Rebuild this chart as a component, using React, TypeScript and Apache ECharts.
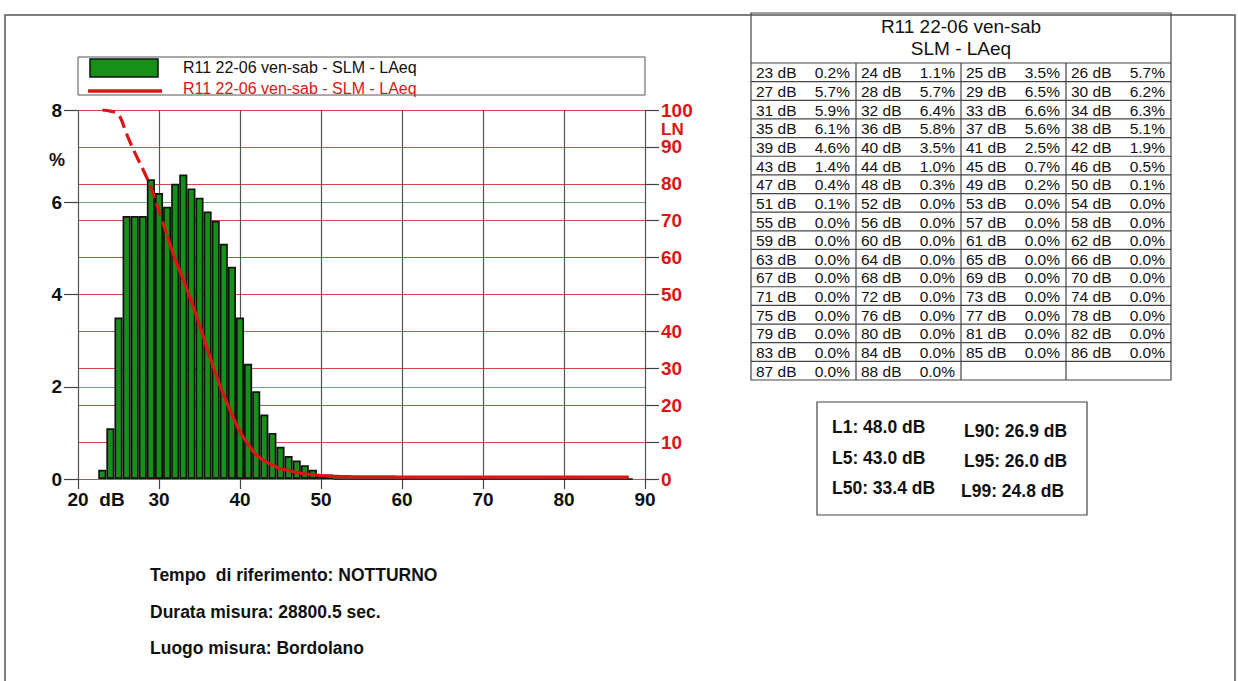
import React, { useEffect, useRef } from "react";
import * as echarts from "echarts";

// ---- Data ----
const dbLevels = [
  23, 24, 25, 26, 27, 28, 29, 30, 31, 32, 33, 34, 35, 36, 37, 38, 39, 40, 41, 42, 43, 44,
  45, 46, 47, 48, 49, 50, 51, 52, 53, 54, 55, 56, 57, 58, 59, 60, 61, 62, 63, 64, 65, 66,
  67, 68, 69, 70, 71, 72, 73, 74, 75, 76, 77, 78, 79, 80, 81, 82, 83, 84, 85, 86, 87, 88,
];
const pctValues = [
  0.2, 1.1, 3.5, 5.7, 5.7, 5.7, 6.5, 6.2, 5.9, 6.4, 6.6, 6.3, 6.1, 5.8, 5.6, 5.1, 4.6, 3.5,
  2.5, 1.9, 1.4, 1.0, 0.7, 0.5, 0.4, 0.3, 0.2, 0.1, 0.1, 0.0, 0.0, 0.0, 0.0, 0.0, 0.0, 0.0,
  0.0, 0.0, 0.0, 0.0, 0.0, 0.0, 0.0, 0.0, 0.0, 0.0, 0.0, 0.0, 0.0, 0.0, 0.0, 0.0, 0.0, 0.0,
  0.0, 0.0, 0.0, 0.0, 0.0, 0.0, 0.0, 0.0, 0.0, 0.0, 0.0, 0.0,
];
// LN curve (percent of time the level is exceeded)
const lnValues = [
  100, 99.7, 98.8, 93.5, 88.5, 84, 79, 72.5, 66, 59.5, 54, 48.1, 41.8, 35, 28.5, 22.7, 17.5,
  12.8, 9.4, 6.6, 4.9, 3.8, 2.8, 2.3, 1.8, 1.4, 1.2, 0.95, 0.8, 0.7, 0.65, 0.6, 0.6, 0.6,
  0.55, 0.55, 0.55, 0.5, 0.5, 0.5, 0.5, 0.5, 0.5, 0.5, 0.5, 0.5, 0.5, 0.5, 0.5, 0.5, 0.5,
  0.5, 0.5, 0.5, 0.5, 0.5, 0.5, 0.5, 0.5, 0.5, 0.5, 0.5, 0.5, 0.5, 0.5, 0.5,
];
const dashedUntilDb = 31;

const seriesName = "R11 22-06 ven-sab - SLM - LAeq";
const tableTitle = ["R11 22-06 ven-sab", "SLM - LAeq"];
const statLabels = ["L1", "L5", "L50", "L90", "L95", "L99"];
const statValues = [48.0, 43.0, 33.4, 26.9, 26.0, 24.8];
const infoLines = [
  "Tempo  di riferimento: NOTTURNO",
  "Durata misura: 28800.5 sec.",
  "Luogo misura: Bordolano",
];

const FONT = '"Liberation Sans", Arial, Helvetica, sans-serif';
const RED = "#dc1414";
const GREEN = "#169018";

function txt(text: string, x: number, y: number, size: number, opts: any = {}) {
  const align = opts.align || "left";
  return {
    type: "text",
    silent: true,
    z: 10,
    style: {
      text,
      x,
      y,
      fill: opts.fill || "#111",
      font: `${opts.bold ? "bold " : ""}${size}px ${FONT}`,
      align,
      verticalAlign: "middle",
      textAlign: align,
      textVerticalAlign: "middle",
    },
  };
}
function ln(x1: number, y1: number, x2: number, y2: number, stroke = "#333", w = 1) {
  return { type: "line", silent: true, z: 5, shape: { x1, y1, x2, y2 }, style: { stroke, lineWidth: w } };
}
function box(x: number, y: number, w: number, h: number, stroke = "#444", lw = 1) {
  return {
    type: "rect",
    silent: true,
    z: 5,
    shape: { x, y, width: w, height: h },
    style: { fill: "none", stroke, lineWidth: lw },
  };
}

function buildGraphics() {
  const els: any[] = [];
  // outer frame
  els.push(box(5, 15, 1230, 700, "#555", 1.5));
  // legend
  els.push(box(78, 57, 567, 38, "#555", 1));
  els.push({
    type: "rect",
    silent: true,
    z: 6,
    shape: { x: 90, y: 59, width: 68, height: 18 },
    style: { fill: GREEN, stroke: "#111", lineWidth: 1.5 },
  });
  els.push(ln(88, 91, 162, 91, RED, 3.5));
  els.push(txt(seriesName, 183, 67, 16));
  els.push(txt(seriesName, 183, 88, 16, { fill: RED }));
  // axis extras
  els.push(txt("%", 57, 160, 18, { bold: true, align: "center" }));
  els.push(txt("LN", 661, 129, 17, { bold: true, fill: RED }));
  els.push(txt("dB", 112, 499, 19, { bold: true, align: "center" }));

  // table
  const tx = 751, ty = 13, tw = 420, th = 367;
  const gridTop = 63;
  const nRows = Math.ceil(dbLevels.length / 4);
  const rowH = (ty + th - gridTop) / nRows;
  const colW = tw / 4;
  els.push(box(tx, ty, tw, th, "#444", 1.2));
  els.push(txt(tableTitle[0], tx + tw / 2, 26, 19, { align: "center" }));
  els.push(txt(tableTitle[1], tx + tw / 2, 48, 19, { align: "center" }));
  for (let r = 0; r < nRows; r++) {
    els.push(ln(tx, gridTop + r * rowH, tx + tw, gridTop + r * rowH, "#444", 1.2));
  }
  for (let c = 1; c < 4; c++) {
    els.push(ln(tx + c * colW, gridTop, tx + c * colW, ty + th, "#444", 1.2));
  }
  dbLevels.forEach((d, i) => {
    const r = Math.floor(i / 4);
    const c = i % 4;
    const cy = gridTop + (r + 0.5) * rowH + 0.5;
    const cx = tx + c * colW;
    els.push(txt(`${d} dB`, cx + 5, cy, 15.5));
    els.push(txt(`${pctValues[i].toFixed(1)}%`, cx + colW - 6, cy, 15.5, { align: "right" }));
  });

  // stats box
  els.push(box(817, 402, 270, 113, "#444", 1.2));
  const statPos = [
    [832, 427],
    [832, 458],
    [832, 488],
    [964, 431],
    [964, 461],
    [961, 491],
  ];
  statLabels.forEach((l, i) => {
    els.push(txt(`${l}: ${statValues[i].toFixed(1)} dB`, statPos[i][0], statPos[i][1], 17.5, { bold: true }));
  });

  // info lines
  infoLines.forEach((t, i) => {
    els.push(txt(t, 150, 575 + i * 36.5, 17.5, { bold: true }));
  });
  return els;
}

export default function App() {
  const ref = useRef<HTMLDivElement>(null);
  useEffect(() => {
    if (!ref.current) return;
    const chart = echarts.init(ref.current, undefined, { renderer: "svg" });
    const barData = dbLevels.map((d, i) => [d, pctValues[i]]);
    const lnData = dbLevels.map((d, i) => [d, lnValues[i]]);
    const dashedData = lnData.filter((p) => p[0] <= dashedUntilDb);
    const solidData = lnData.filter((p) => p[0] >= dashedUntilDb);

    chart.setOption({
      animation: false,
      backgroundColor: "#fff",
      grid: { left: 78, right: 593, top: 110, bottom: 202, containLabel: false },
      xAxis: {
        type: "value",
        min: 20,
        max: 90,
        interval: 10,
        axisLine: { show: false },
        axisTick: { show: true, length: 10, lineStyle: { color: "#444", width: 1.2 } },
        axisLabel: {
          margin: 11,
          color: "#111",
          fontSize: 19,
          fontWeight: "bold",
          fontFamily: FONT,
        },
        splitLine: { show: true, lineStyle: { color: "#555", width: 1.2 } },
      },
      yAxis: [
        {
          type: "value",
          min: 0,
          max: 8,
          interval: 2,
          position: "left",
          axisLine: { show: false },
          axisTick: { show: true, length: 14, lineStyle: { color: "#444", width: 1.2 } },
          axisLabel: {
            margin: 16,
            color: "#111",
            fontSize: 19,
            fontWeight: "bold",
            fontFamily: FONT,
          },
          splitLine: { show: true, lineStyle: { color: "#6aa882", width: 1 } },
        },
        {
          type: "value",
          min: 0,
          max: 100,
          interval: 10,
          position: "right",
          axisLine: { show: false },
          axisTick: { show: true, length: 14, lineStyle: { color: "#444", width: 1.2 } },
          axisLabel: {
            margin: 16,
            color: RED,
            fontSize: 19,
            fontWeight: "bold",
            fontFamily: FONT,
          },
          splitLine: { show: true, lineStyle: { color: "#d84848", width: 1 } },
        },
      ],
      series: [
        {
          name: seriesName,
          type: "bar",
          xAxisIndex: 0,
          yAxisIndex: 0,
          data: barData,
          barWidth: 8.1,
          itemStyle: { color: GREEN, borderColor: "#111", borderWidth: 1.7 },
          z: 2,
        },
        {
          name: seriesName,
          type: "line",
          xAxisIndex: 0,
          yAxisIndex: 1,
          data: dashedData,
          symbol: "none",
          smooth: 0.4,
          lineStyle: { color: RED, width: 3.2, type: [13, 6] },
          z: 3,
        },
        {
          name: seriesName,
          type: "line",
          xAxisIndex: 0,
          yAxisIndex: 1,
          data: solidData,
          symbol: "none",
          smooth: 0.4,
          lineStyle: { color: RED, width: 3.2 },
          z: 3,
        },
      ],
      graphic: { elements: buildGraphics() },
    });
    return () => chart.dispose();
  }, []);
  return (
    <div
      ref={ref}
      style={{ position: "fixed", left: 0, top: 0, width: 1238, height: 681, background: "#fff" }}
    />
  );
}
